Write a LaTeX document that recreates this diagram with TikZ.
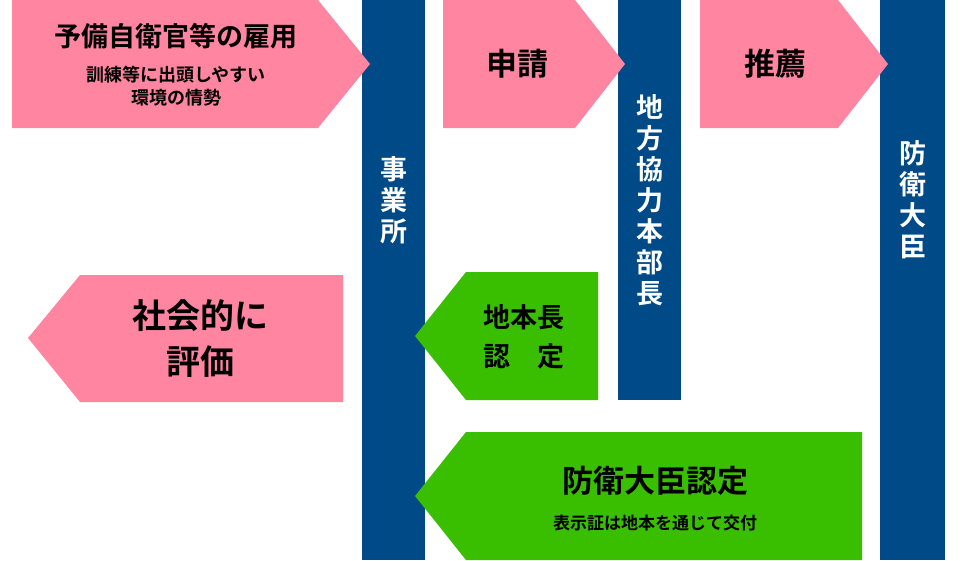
\documentclass[tikz,border=0pt]{standalone}
\usepackage{fontspec}
\setmainfont{Noto Sans CJK JP}[BoldFont={Noto Sans CJK JP Bold}]
\begin{document}
\begin{tikzpicture}[x=1pt,y=-1pt,
 pinkc/.style={fill={rgb,255:red,255;green,133;blue,160}},
 greenc/.style={fill={rgb,255:red,58;green,190;blue,0}},
 barc/.style={fill={rgb,255:red,0;green,74;blue,135}},
 txt/.style={font=\bfseries, text=black, align=center, inner sep=0pt},
 vtxt/.style={font=\bfseries\fontsize{27}{31}\selectfont, text=white, align=center, inner sep=0pt}]
\useasboundingbox (0,0) rectangle (960,560);
% bars
\path[barc] (362,0) rectangle (425,560);
\path[barc] (618,0) rectangle (681,400);
\path[barc] (880,0) rectangle (945,560);
\node[vtxt] (b1) at (393.5,200) {事\\業\\所};
\node[vtxt] (b2) at (649.5,200) {地\\方\\協\\力\\本\\部\\長};
\node[vtxt] (b3) at (912.5,200) {防\\衛\\大\\臣};
% pink right arrows
\path[pinkc] (12,0) -- (318,0) -- (370,64) -- (318,128) -- (12,128) -- cycle;
\path[pinkc] (443,0) -- (575,0) -- (625,64) -- (575,128) -- (443,128) -- cycle;
\path[pinkc] (700,0) -- (838,0) -- (888,64) -- (838,128) -- (700,128) -- cycle;
\node[txt, font=\bfseries\fontsize{27}{30}\selectfont] (p1) at (176,36) {予備自衛官等の雇用};
\node[txt, font=\bfseries\fontsize{18}{23}\selectfont] (p1s) at (176,86) {訓練等に出頭しやすい\\環境の情勢};
\node[txt, font=\bfseries\fontsize{31}{34}\selectfont] (p2) at (517,64) {申請};
\node[txt, font=\bfseries\fontsize{31}{34}\selectfont] (p3) at (775,64) {推薦};
% pink left arrow
\path[pinkc] (343,275) -- (80,275) -- (28,338) -- (80,402) -- (343,402) -- cycle;
\node[txt, font=\bfseries\fontsize{34}{46}\selectfont] (p4) at (200,339) {社会的に\\評価};
% green arrows
\path[greenc] (598,272) -- (466,272) -- (415,336) -- (466,400) -- (598,400) -- cycle;
\node[txt, font=\bfseries\fontsize{27}{39}\selectfont] (g1) at (524,337) {地本長\\認\hspace{1em}定};
\path[greenc] (862,432) -- (466,432) -- (415,496) -- (466,560) -- (862,560) -- cycle;
\node[txt, font=\bfseries\fontsize{31}{34}\selectfont] (g2) at (655,481) {防衛大臣認定};
\node[txt, font=\bfseries\fontsize{17}{20}\selectfont] (g2s) at (655,523) {表示証は地本を通じて交付};
\end{tikzpicture}
\end{document}
